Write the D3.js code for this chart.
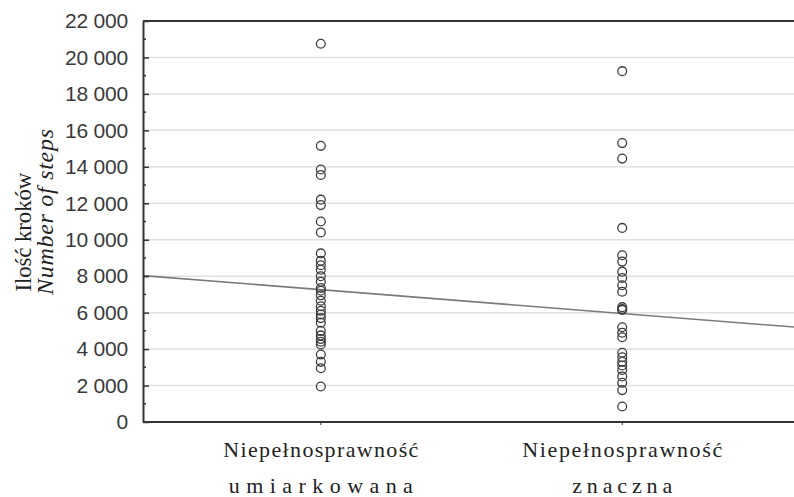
<!DOCTYPE html>
<html><head><meta charset="utf-8">
<script src="https://cdn.jsdelivr.net/npm/d3@7"></script>
<style>body{margin:0;background:#fff;} svg{display:block;}</style>
</head><body>
<svg id="chart" width="794" height="497"></svg>
<script>
// ---- data ----
const categoryCodes = [1, 2];
const categoryLine1 = ["Niepełnosprawność", "Niepełnosprawność"];
const categoryLine2 = ["umiarkowana", "znaczna"];
const groupModerate = [20750, 15150, 13850, 13550, 12200, 11900, 11000, 10400, 9250, 8850, 8600, 8350, 8000, 7700, 7350, 7200, 6950, 6650, 6350, 6100, 5900, 5700, 5450, 5000, 4750, 4550, 4400, 4250, 3700, 3300, 2950, 1950];
const groupSevere = [19250, 15300, 14450, 10650, 9150, 8800, 8250, 7900, 7500, 7150, 6300, 6200, 6150, 5200, 4900, 4650, 3800, 3550, 3300, 3100, 2850, 2500, 2150, 1750, 850];
const yTickValues = [0, 2000, 4000, 6000, 8000, 10000, 12000, 14000, 16000, 18000, 20000, 22000];
const yTickLabels = ["0", "2 000", "4 000", "6 000", "8 000", "10 000", "12 000", "14 000", "16 000", "18 000", "20 000", "22 000"];
const yMinorTicks = [1000, 3000, 5000, 7000, 9000, 11000, 13000, 15000, 17000, 19000, 21000];
const regressionCoef = [8565, -1306]; // intercept, slope
const xDomain = [0.41, 2.57];
const yDomain = [0, 22000];
const yTitle1 = "Ilość kroków";
const yTitle2 = "Number of steps";

// ---- layout ----
const L = 143, R = 794, T = 21, B = 422;
const svg = d3.select("#chart");
const x = d3.scaleLinear().domain(xDomain).range([L, R]);
const y = d3.scaleLinear().domain(yDomain).range([B, T]);

// gridlines
svg.append("g").selectAll("line")
  .data(yTickValues.filter(v => v > 0 && v < 22000))
  .join("line")
  .attr("x1", L).attr("x2", R)
  .attr("y1", d => y(d)).attr("y2", d => y(d))
  .attr("stroke", "#e0e0e0").attr("stroke-width", 1.5);

// regression line
const reg = v => regressionCoef[0] + regressionCoef[1] * v;
svg.append("line")
  .attr("x1", x(xDomain[0])).attr("y1", y(reg(xDomain[0])))
  .attr("x2", x(xDomain[1])).attr("y2", y(reg(xDomain[1])))
  .attr("stroke", "#7a7a7a").attr("stroke-width", 1.6);

// points
const groups = [groupModerate, groupSevere];
groups.forEach((vals, gi) => {
  svg.append("g").selectAll("circle")
    .data(vals).join("circle")
    .attr("cx", x(categoryCodes[gi]))
    .attr("cy", d => y(d))
    .attr("r", 4.4)
    .attr("fill", "none")
    .attr("stroke", "#3c3c3c")
    .attr("stroke-width", 1.3);
});

// y axis
const yAxis = d3.axisLeft(y)
  .tickValues(yTickValues)
  .tickSizeInner(-6).tickSizeOuter(0).tickPadding(15)
  .tickFormat((d, i) => yTickLabels[i]);
const gy = svg.append("g").attr("transform", `translate(${L},0)`).call(yAxis);
gy.select(".domain").attr("stroke", "#333").attr("stroke-width", 2);
gy.selectAll(".tick line").attr("stroke", "#333").attr("stroke-width", 1.5);
gy.selectAll(".tick text")
  .attr("fill", "#3a3a3a")
  .style("font-family", "'Liberation Sans', Arial, sans-serif")
  .style("font-size", "21px")
  .style("letter-spacing", "-0.2px");

// minor ticks
svg.append("g").selectAll("line").data(yMinorTicks).join("line")
  .attr("x1", L).attr("x2", L + 3)
  .attr("y1", d => y(d)).attr("y2", d => y(d))
  .attr("stroke", "#333").attr("stroke-width", 1.5);

// top frame & bottom axis
svg.append("line").attr("x1", L).attr("x2", R).attr("y1", T).attr("y2", T)
  .attr("stroke", "#333").attr("stroke-width", 2);
svg.append("line").attr("x1", L).attr("x2", R).attr("y1", B).attr("y2", B)
  .attr("stroke", "#333").attr("stroke-width", 2);
svg.append("g").selectAll("line").data(categoryCodes).join("line")
  .attr("x1", d => x(d)).attr("x2", d => x(d))
  .attr("y1", B).attr("y2", B + 3)
  .attr("stroke", "#333").attr("stroke-width", 1);

// x category labels
const line1Width = [195, 200];
const line2Width = [184, 100];
const xl = svg.append("g")
  .style("font-family", "'Liberation Serif', 'Times New Roman', serif")
  .style("font-size", "22px").attr("fill", "#222");
categoryCodes.forEach((c, i) => {
  xl.append("text").attr("x", x(c)).attr("y", 457).attr("text-anchor", "middle")
    .attr("textLength", line1Width[i]).attr("lengthAdjust", "spacing").text(categoryLine1[i]);
  xl.append("text").attr("x", x(c)).attr("y", 493).attr("text-anchor", "middle")
    .attr("textLength", line2Width[i]).attr("lengthAdjust", "spacing").text(categoryLine2[i]);
});

// y title
svg.append("text")
  .attr("transform", "translate(31,232) rotate(-90)")
  .attr("text-anchor", "middle")
  .style("font-family", "'Liberation Serif', 'Times New Roman', serif")
  .style("font-size", "23px").attr("fill", "#222")
  .attr("textLength", 119).attr("lengthAdjust", "spacing")
  .text(yTitle1);
svg.append("text")
  .attr("transform", "translate(53,212) rotate(-90)")
  .attr("text-anchor", "middle")
  .style("font-family", "'Liberation Serif', 'Times New Roman', serif")
  .style("font-style", "italic")
  .style("font-size", "24px").attr("fill", "#222")
  .attr("textLength", 166).attr("lengthAdjust", "spacing")
  .text(yTitle2);
</script>
</body></html>
